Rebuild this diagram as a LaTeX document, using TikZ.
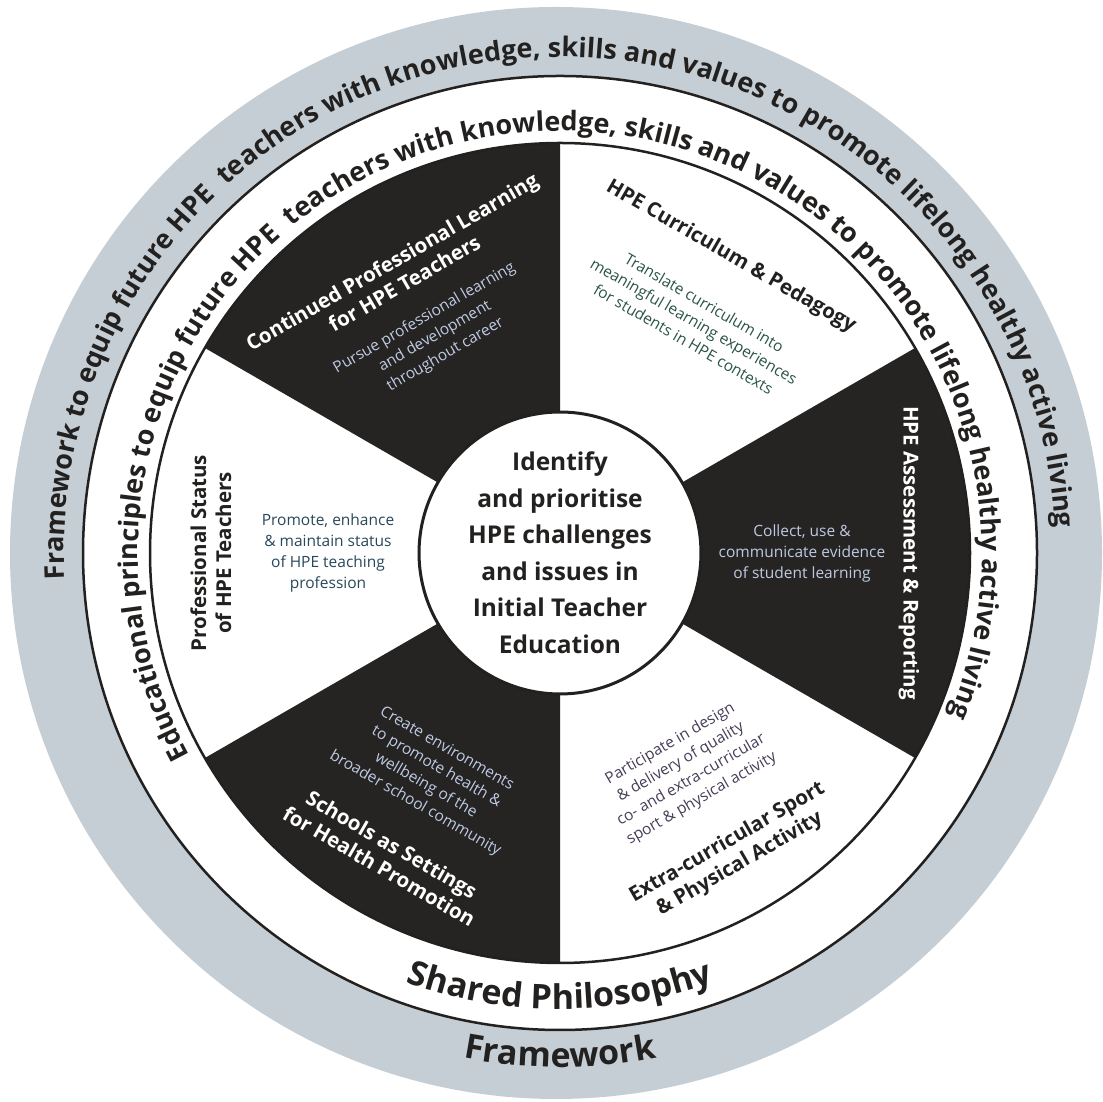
\documentclass[tikz,border=0pt]{standalone}
\usepackage{fontspec}
\setmainfont{Open Sans}
\usetikzlibrary{calc,decorations.text}
\definecolor{ringgray}{RGB}{198,206,213}
\definecolor{sectdark}{RGB}{38,36,34}
\definecolor{inkdark}{RGB}{35,33,32}
\definecolor{desclight}{RGB}{190,202,228}
\definecolor{descgreen}{RGB}{42,84,70}
\definecolor{descteal}{RGB}{40,72,92}
\definecolor{descplum}{RGB}{72,62,88}

\begin{document}
\begin{tikzpicture}[x=1pt, y=1pt,
  title/.style={font=\fontsize{20.5}{25}\selectfont\bfseries, align=center, inner sep=0pt},
  desc/.style={font=\fontsize{15.5}{21}\selectfont, align=center, inner sep=0pt},
  hub/.style={circle, draw=inkdark, line width=3pt, fill=white, minimum size=276pt, align=center, text=inkdark, font=\fontsize{24.5}{36.5}\selectfont\bfseries}]
\useasboundingbox (0,0) rectangle (1103,1102);
\coordinate (C) at (560,549);
\fill[ringgray] (556,549) circle[radius=546pt];
\fill[white] (C) circle[radius=477pt];
\foreach \a in {90,210,330} \fill[sectdark] (C) -- ++(\a:410) arc[start angle=\a, end angle=\a+60, radius=410pt] -- cycle;
\draw[line width=2.5pt, inkdark] (C) circle[radius=410pt];
\draw[line width=2.5pt, inkdark] (C) circle[radius=477pt];
\node[hub] (hub) at (C) {Identify\\and prioritise\\HPE challenges\\and issues in\\Initial Teacher\\Education};
\node[title, white, rotate=30] (cplTitle) at ($(C)+(120:324)$) {Continued Professional Learning\\for HPE Teachers};
\node[desc, desclight, rotate=30] (cplText) at ($(C)+(120:250)$) {Pursue professional learning\\and development\\throughout career};
\node[title, inkdark, rotate=-30] (curTitle) at ($(C)+(60:342)$) {HPE Curriculum \& Pedagogy};
\node[desc, descgreen, rotate=-30] (curText) at ($(C)+(60:268)$) {Translate curriculum into\\meaningful learning experiences\\for students in HPE contexts};
\node[title, white, rotate=-90] (asrTitle) at ($(C)+(0:349)$) {HPE Assessment \& Reporting};
\node[desc, desclight] (asrText) at ($(C)+(0:242)$) {Collect, use \&\\communicate evidence\\of student learning};
\node[title, inkdark, rotate=30] (ecsTitle) at ($(C)+(-60:347)$) {Extra-curricular Sport\\\& Physical Activity};
\node[desc, descplum, rotate=30] (ecsText) at ($(C)+(-60:252)$) {Participate in design\\\& delivery of quality\\co- and extra-curricular\\sport \& physical activity};
\node[title, white, rotate=-30] (shpTitle) at ($(C)+(240:349)$) {Schools as Settings\\for Health Promotion};
\node[desc, desclight, rotate=-30] (shpText) at ($(C)+(240:258)$) {Create environments\\to promote health \&\\wellbeing of the\\broader school community};
\node[title, inkdark, rotate=90] (pstTitle) at ($(C)+(180:349)$) {Professional Status\\of HPE Teachers};
\node[desc, descteal] (pstText) at ($(C)+(180:232)$) {Promote, enhance\\\& maintain status\\of HPE teaching\\profession};
\path[decorate, decoration={text along path, text align=center,
  text={|\fontsize{27}{27}\selectfont\bfseries\color{inkdark}|Framework to equip future HPE{\ } teachers with knowledge, skills and values to promote lifelong healthy active living}}]
  ($(C)+(233:496)$) arc[start angle=233, end angle=-47, radius=496pt];
\path[decorate, decoration={text along path, text align=center,
  text={|\fontsize{27}{27}\selectfont\bfseries\color{inkdark}|Educational principles to equip future HPE{\ } teachers with knowledge, skills and values to promote lifelong healthy active living}}]
  ($(C)+(233:422)$) arc[start angle=233, end angle=-47, radius=422pt];
\path[decorate, decoration={text along path, text align=center,
  text={|\fontsize{34}{34}\selectfont\bfseries\color{inkdark}|Shared Philosophy}}]
  ($(C)+(230:456)$) arc[start angle=230, end angle=310, radius=456pt];
\path[decorate, decoration={text along path, text align=center,
  text={|\fontsize{34}{34}\selectfont\bfseries\color{inkdark}|Framework}}]
  ($(C)+(240:514)$) arc[start angle=240, end angle=300, radius=514pt];
\end{tikzpicture}
\end{document}
